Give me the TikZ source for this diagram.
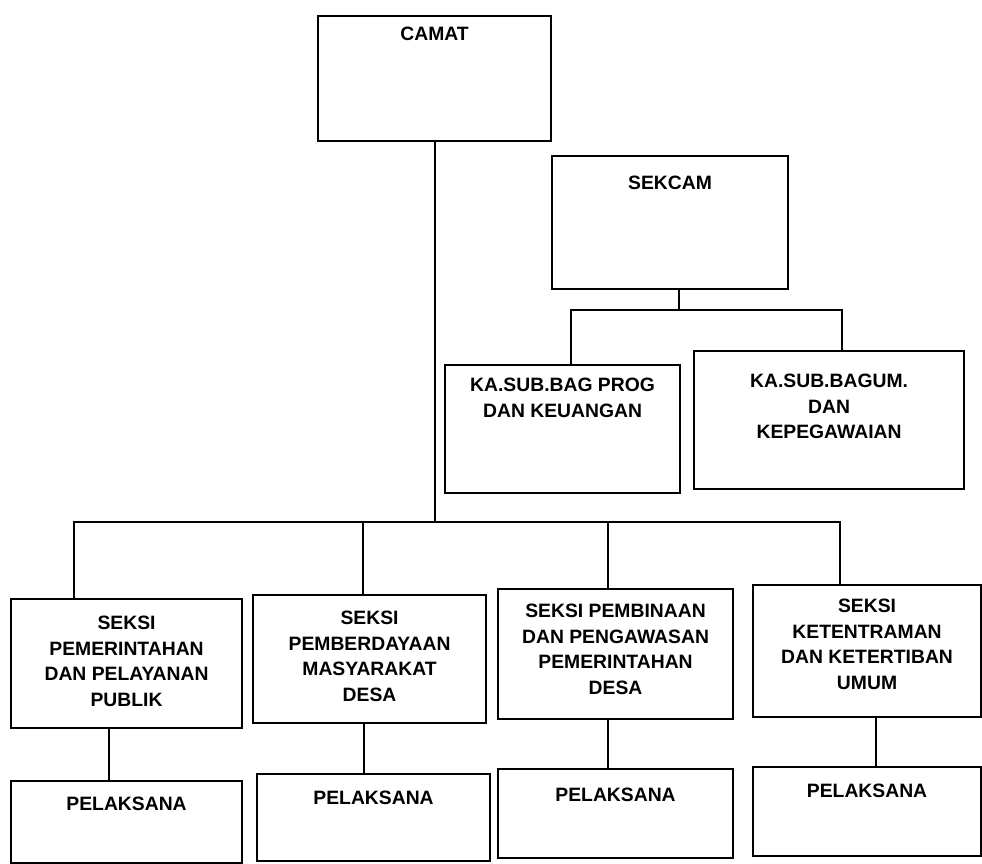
\documentclass[tikz,border=0pt]{standalone}
\usepackage{fontspec}
\setmainfont{Liberation Sans}

\tikzset{
  unit/.style={draw, line width=1.2pt, anchor=north west, inner sep=0pt},
  caption/.style={anchor=north, inner sep=0pt, align=center,
                  font=\fontsize{11}{14.6}\selectfont\bfseries},
  link/.style={line width=1.2pt},
}

\begin{document}
\begin{tikzpicture}[x=0.2mm, y=-0.2mm, line cap=round]
\useasboundingbox (0,0) rectangle (982,864);

% top level
\node[unit, minimum width=46.6mm, minimum height=25mm,
      label={[caption,yshift=-2.3mm]north:CAMAT}] (camat) at (317,15) {};
\node[unit, minimum width=47.2mm, minimum height=26.6mm,
      label={[caption,yshift=-4.1mm]north:SEKCAM}] (sekcam) at (551,155) {};
\node[unit, minimum width=47mm, minimum height=25.6mm,
      label={[caption,yshift=-2.7mm]north:{KA.SUB.BAG PROG\\DAN KEUANGAN}}] (prog) at (444,364) {};
\node[unit, minimum width=54mm, minimum height=27.6mm,
      label={[caption,yshift=-4.7mm]north:{KA.SUB.BAGUM.\\DAN\\KEPEGAWAIAN}}] (bagum) at (693,350) {};

% seksi
\node[unit, minimum width=46.2mm, minimum height=25.8mm,
      label={[caption,yshift=-3.5mm]north:{SEKSI\\PEMERINTAHAN\\DAN PELAYANAN\\PUBLIK}}] (s1) at (10,598) {};
\node[unit, minimum width=46.6mm, minimum height=25.6mm,
      label={[caption,yshift=-3.3mm]north:{SEKSI\\PEMBERDAYAAN\\MASYARAKAT\\DESA}}] (s2) at (252,594) {};
\node[unit, minimum width=47mm, minimum height=26mm,
      label={[caption,yshift=-3.1mm]north:{SEKSI PEMBINAAN\\DAN PENGAWASAN\\PEMERINTAHAN\\DESA}}] (s3) at (497,588) {};
\node[unit, minimum width=45.6mm, minimum height=26.4mm,
      label={[caption,yshift=-2.9mm]north:{SEKSI\\KETENTRAMAN\\DAN KETERTIBAN\\UMUM}}] (s4) at (752,584) {};

% pelaksana
\foreach \k/\x/\y/\w/\h/\dy in {1/10/780/46.2/16.4/3.3, 2/256/773/46.6/17.4/3.5,
                                3/497/768/47/17.8/3.9, 4/752/766/45.6/17.8/3.5}
  \node[unit, minimum width=\w mm, minimum height=\h mm,
        label={[caption,yshift=-\dy mm]north:PELAKSANA}] (p\k) at (\x,\y) {};

% connectors
\coordinate (hub) at (camat.south |- 0,522);
\coordinate (sub) at ([xshift=1.8mm]sekcam.south |- 0,310);
\draw[link] (camat.south) -- (hub);
\draw[link] ([xshift=1.8mm]sekcam.south) -- (sub);
\draw[link] ([xshift=1.7mm]prog.north) |- (sub) -| ([xshift=2.6mm]bagum.north);
\draw[link] ([xshift=-10.6mm]s1.north) |- (hub) -| ([xshift=-5.4mm]s4.north);
\foreach \k/\dx in {2/-1.4mm, 3/-1.6mm}
  \draw[link] ([xshift=\dx]s\k.north) -- ([xshift=\dx]s\k.north |- hub);
\foreach \k/\dx in {1/-3.5mm, 2/-1.2mm, 3/-1.6mm, 4/1.8mm}
  \draw[link] ([xshift=\dx]s\k.south) -- ([xshift=\dx]s\k.south |- p\k.north);
\end{tikzpicture}
\end{document}
